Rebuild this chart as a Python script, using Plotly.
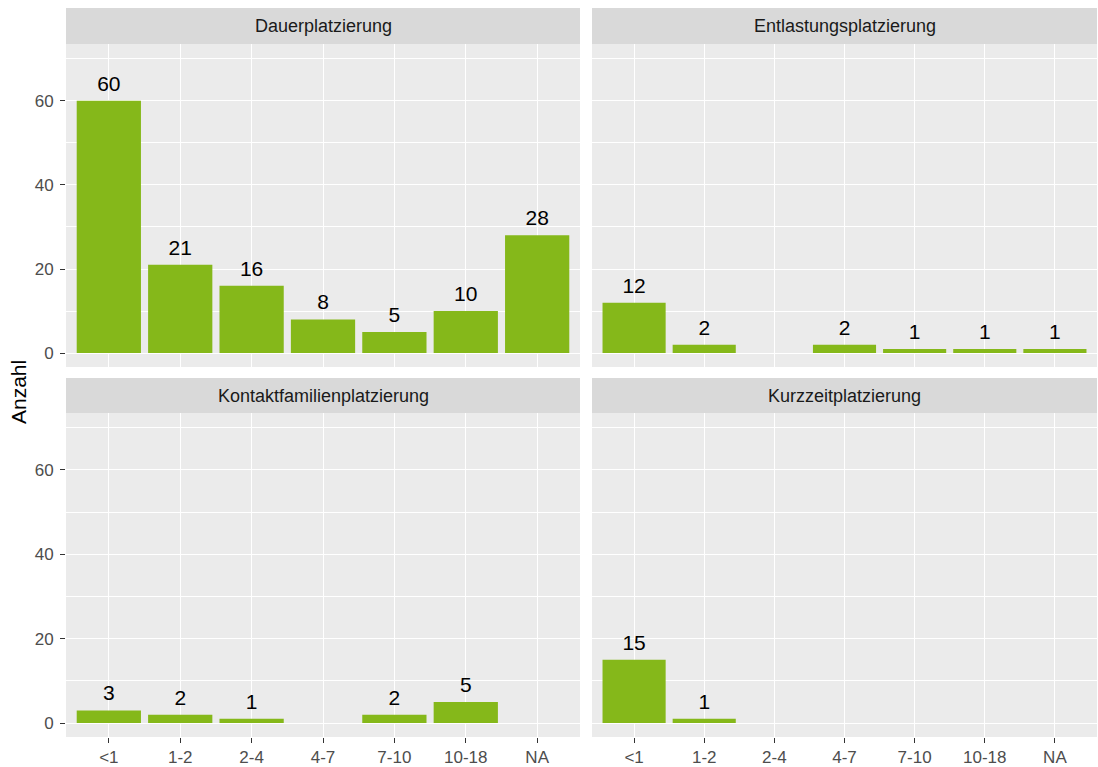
import plotly.graph_objects as go

categories = ["<1", "1-2", "2-4", "4-7", "7-10", "10-18", "NA"]
panel_titles = ["Dauerplatzierung", "Entlastungsplatzierung",
                "Kontaktfamilienplatzierung", "Kurzzeitplatzierung"]
dauer = [60, 21, 16, 8, 5, 10, 28]
entlastung = [12, 2, None, 2, 1, 1, 1]
kontakt = [3, 2, 1, None, 2, 5, None]
kurzzeit = [15, 1, None, None, None, None, None]
series = [dauer, entlastung, kontakt, kurzzeit]
y_ticks = [0, 20, 40, 60]

W, H = 1098, 767
BAR = "#85B81A"
FONT = "Liberation Sans, Arial, sans-serif"

# panel geometry in pixels
xcols = [(66, 580), (592, 1097)]
yrows = [(44, 367), (413, 737)]
strips = [(8, 44), (378, 413)]

def px_x(a, b):
    return [a / W, b / W]

def px_y(a, b):
    return [1 - b / H, 1 - a / H]

fig = go.Figure()
layout = dict(
    width=W, height=H,
    margin=dict(l=0, r=0, t=0, b=0),
    paper_bgcolor="white",
    plot_bgcolor="#EBEBEB",
    showlegend=False,
    bargap=0.1,
    font=dict(family=FONT, color="#4D4D4D"),
)
shapes = []
annotations = []

for i, vals in enumerate(series):
    r, c = divmod(i, 2)
    n = i + 1
    xa = "x" if n == 1 else f"x{n}"
    ya = "y" if n == 1 else f"y{n}"
    fig.add_trace(go.Bar(
        x=categories, y=vals, xaxis=xa, yaxis=ya,
        marker=dict(color=BAR, line=dict(width=0)),
        hoverinfo="x+y",
    ))
    fig.add_trace(go.Scatter(
        x=categories, y=vals, xaxis=xa, yaxis=ya,
        mode="markers+text",
        marker=dict(size=6, opacity=0, color=BAR),
        text=["" if v is None else str(v) for v in vals],
        textposition="top center",
        textfont=dict(family=FONT, size=21, color="#000000"),
        hoverinfo="skip",
    ))
    bottom = r == 1
    left = c == 0
    layout[f"xaxis{'' if n == 1 else n}"] = dict(
        domain=px_x(*xcols[c]),
        anchor=ya,
        type="category",
        categoryorder="array", categoryarray=categories,
        range=[-0.6, 6.6],
        showgrid=True, gridcolor="white", gridwidth=1.4,
        zeroline=False, showline=False,
        ticks="outside" if bottom else "",
        ticklen=5, tickwidth=1.3, tickcolor="#333333",
        showticklabels=bottom,
        tickfont=dict(family=FONT, size=17, color="#4D4D4D"),
        fixedrange=True,
    )
    layout[f"yaxis{'' if n == 1 else n}"] = dict(
        domain=px_y(*yrows[r]),
        anchor=xa,
        range=[-3.3, 73.5],
        tickvals=y_ticks,
        showgrid=True, gridcolor="white", gridwidth=1.4,
        minor=dict(dtick=10, tick0=0, showgrid=True, gridcolor="white", gridwidth=0.7),
        zeroline=False, showline=False,
        ticks="outside" if left else "",
        ticklen=5, tickwidth=1.3, tickcolor="#333333",
        ticklabelstandoff=3,
        showticklabels=left,
        tickfont=dict(family=FONT, size=17, color="#4D4D4D"),
        fixedrange=True,
    )
    # strip
    sx = px_x(*xcols[c])
    sy = px_y(*strips[r])
    shapes.append(dict(type="rect", xref="paper", yref="paper",
                       x0=sx[0], x1=sx[1], y0=sy[0], y1=sy[1],
                       fillcolor="#D9D9D9", line=dict(width=0), layer="below"))
    annotations.append(dict(xref="paper", yref="paper",
                            x=(sx[0] + sx[1]) / 2, y=(sy[0] + sy[1]) / 2,
                            text=panel_titles[i], showarrow=False,
                            xanchor="center", yanchor="middle",
                            font=dict(family=FONT, size=18, color="#1A1A1A")))

annotations.append(dict(xref="paper", yref="paper", x=18 / W, y=1 - 392 / H,
                        text="Anzahl", textangle=-90, showarrow=False,
                        xanchor="center", yanchor="middle",
                        font=dict(family=FONT, size=21, color="#000000")))

layout["shapes"] = shapes
layout["annotations"] = annotations
fig.update_layout(**layout)
fig.write_html(
    "out.html",
    config={"displayModeBar": False},
    post_script="document.body.style.margin='0';document.body.style.overflow='hidden';",
)
